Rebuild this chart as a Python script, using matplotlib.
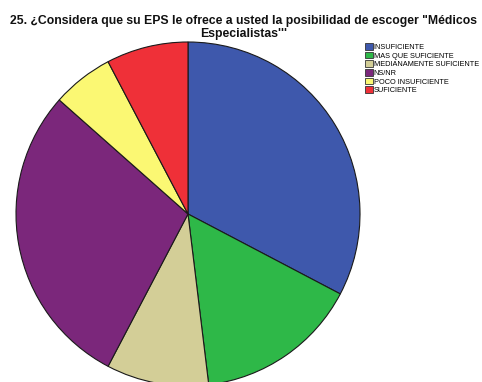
import matplotlib
matplotlib.use("Agg")
import matplotlib.pyplot as plt
from matplotlib.patches import Patch

categories = ["INSUFICIENTE", "MAS QUE SUFICIENTE", "MEDIANAMENTE SUFICIENTE",
              "NS/NR", "POCO INSUFICIENTE", "SUFICIENTE"]
counts = [17, 8, 5, 15, 3, 4]
colors = ["#3e58ac", "#2eb848", "#d3ce97", "#7b277b", "#fbf873", "#ef3038"]

title = ("25. ¿Considera que su EPS le ofrece a usted la posibilidad de escoger \"Médicos\n"
         "Especialistas'''")

W, H = 482, 382
fig = plt.figure(figsize=(W / 100, H / 100), dpi=100)
fig.patch.set_facecolor("white")

cx, cy, r = 188, 214, 172
ax = fig.add_axes([(cx - r) / W, (H - cy - r) / H, 2 * r / W, 2 * r / H])
ax.pie(counts, colors=colors, startangle=90, counterclock=False, radius=1.0,
       wedgeprops=dict(edgecolor="#1a1a1a", linewidth=0.8))
ax.set_xlim(-1, 1)
ax.set_ylim(-1, 1)
ax.set_aspect("equal")
ax.axis("off")

fig.text(244 / W, 1 - 15 / H, title, ha="center", va="top",
         family="Liberation Sans", fontweight="bold", fontsize=8.8,
         linespacing=1.08, color="#111111")

handles = [Patch(facecolor=c, edgecolor="#333333", linewidth=0.6) for c in colors]
fig.legend(handles, categories, loc="upper left",
           bbox_to_anchor=(365 / W, 1 - 43 / H), frameon=False,
           prop=dict(family="Liberation Sans", size=5.3),
           handlelength=1.05, handleheight=1.05, handletextpad=0.12,
           labelspacing=0.1, borderaxespad=0, borderpad=0)

fig.savefig("out.png", dpi=100, facecolor="white")
